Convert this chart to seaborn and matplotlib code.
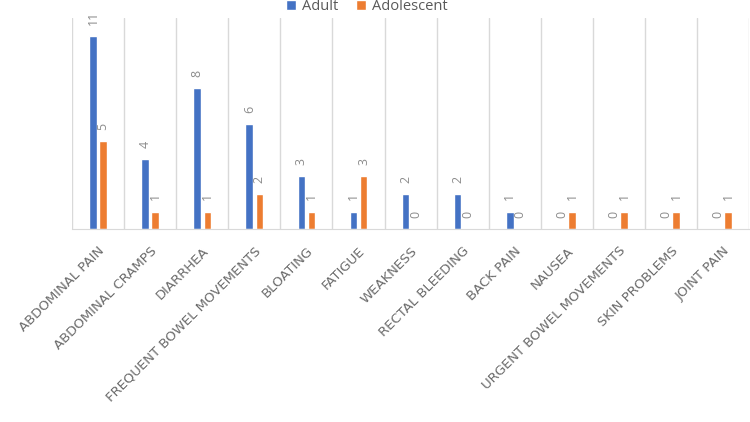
import matplotlib
matplotlib.use("Agg")
import matplotlib.pyplot as plt
import seaborn as sns
import pandas as pd

# data
symptoms = ["ABDOMINAL PAIN", "ABDOMINAL CRAMPS", "DIARRHEA", "FREQUENT BOWEL MOVEMENTS",
            "BLOATING", "FATIGUE", "WEAKNESS", "RECTAL BLEEDING", "BACK PAIN", "NAUSEA",
            "URGENT BOWEL MOVEMENTS", "SKIN PROBLEMS", "JOINT PAIN"]
adult = [11, 4, 8, 6, 3, 1, 2, 2, 1, 0, 0, 0, 0]
adolescent = [5, 1, 1, 2, 1, 3, 0, 0, 0, 1, 1, 1, 1]
groups = ["Adult", "Adolescent"]
colors = ["#4472C4", "#ED7D31"]

df = pd.DataFrame({"symptom": symptoms, "Adult": adult, "Adolescent": adolescent})
df = df.melt(id_vars="symptom", var_name="group", value_name="count")

sns.set_style("white")
plt.rcParams["font.family"] = ["Open Sans", "DejaVu Sans"]

fig = plt.figure(figsize=(7.5, 4.22), dpi=100)
ax = fig.add_axes([0.096, 0.457, 0.903, 0.500])

sns.barplot(data=df, x="symptom", y="count", hue="group", hue_order=groups,
            palette=colors, width=0.39, gap=0.25, saturation=1, errorbar=None, ax=ax)

for cont in ax.containers:
    ax.bar_label(cont, padding=8, rotation=90, fontsize=9, color="#8c8c8c")

ax.set_ylim(0, 12)
ax.set_xlim(-0.5, len(symptoms) - 0.5)
ax.set_yticks([])
ax.set_xlabel("")
ax.set_ylabel("")

# vertical gridlines between categories
ax.set_xticks([i - 0.5 for i in range(len(symptoms) + 1)], minor=True)
ax.grid(which="minor", axis="x", color="#d9d9d9", linewidth=1)
ax.tick_params(axis="x", which="both", length=0)
ax.set_xticklabels(symptoms, rotation=45, ha="right", rotation_mode="anchor",
                   fontsize=9.5, color="#6b6b6b", family="DejaVu Sans")
ax.tick_params(axis="x", pad=11)

for side in ["top", "right", "left"]:
    ax.spines[side].set_visible(False)
ax.spines["bottom"].set_color("#d9d9d9")

sns.move_legend(ax, "lower center", bbox_to_anchor=(0.435, 0.99), ncol=2, frameon=False,
                title=None, fontsize=10.5, handlelength=0.7, handleheight=0.7,
                handletextpad=0.4, columnspacing=1.2, borderaxespad=0)
for t in ax.get_legend().get_texts():
    t.set_color("#595959")

fig.savefig("out.png", dpi=100)
